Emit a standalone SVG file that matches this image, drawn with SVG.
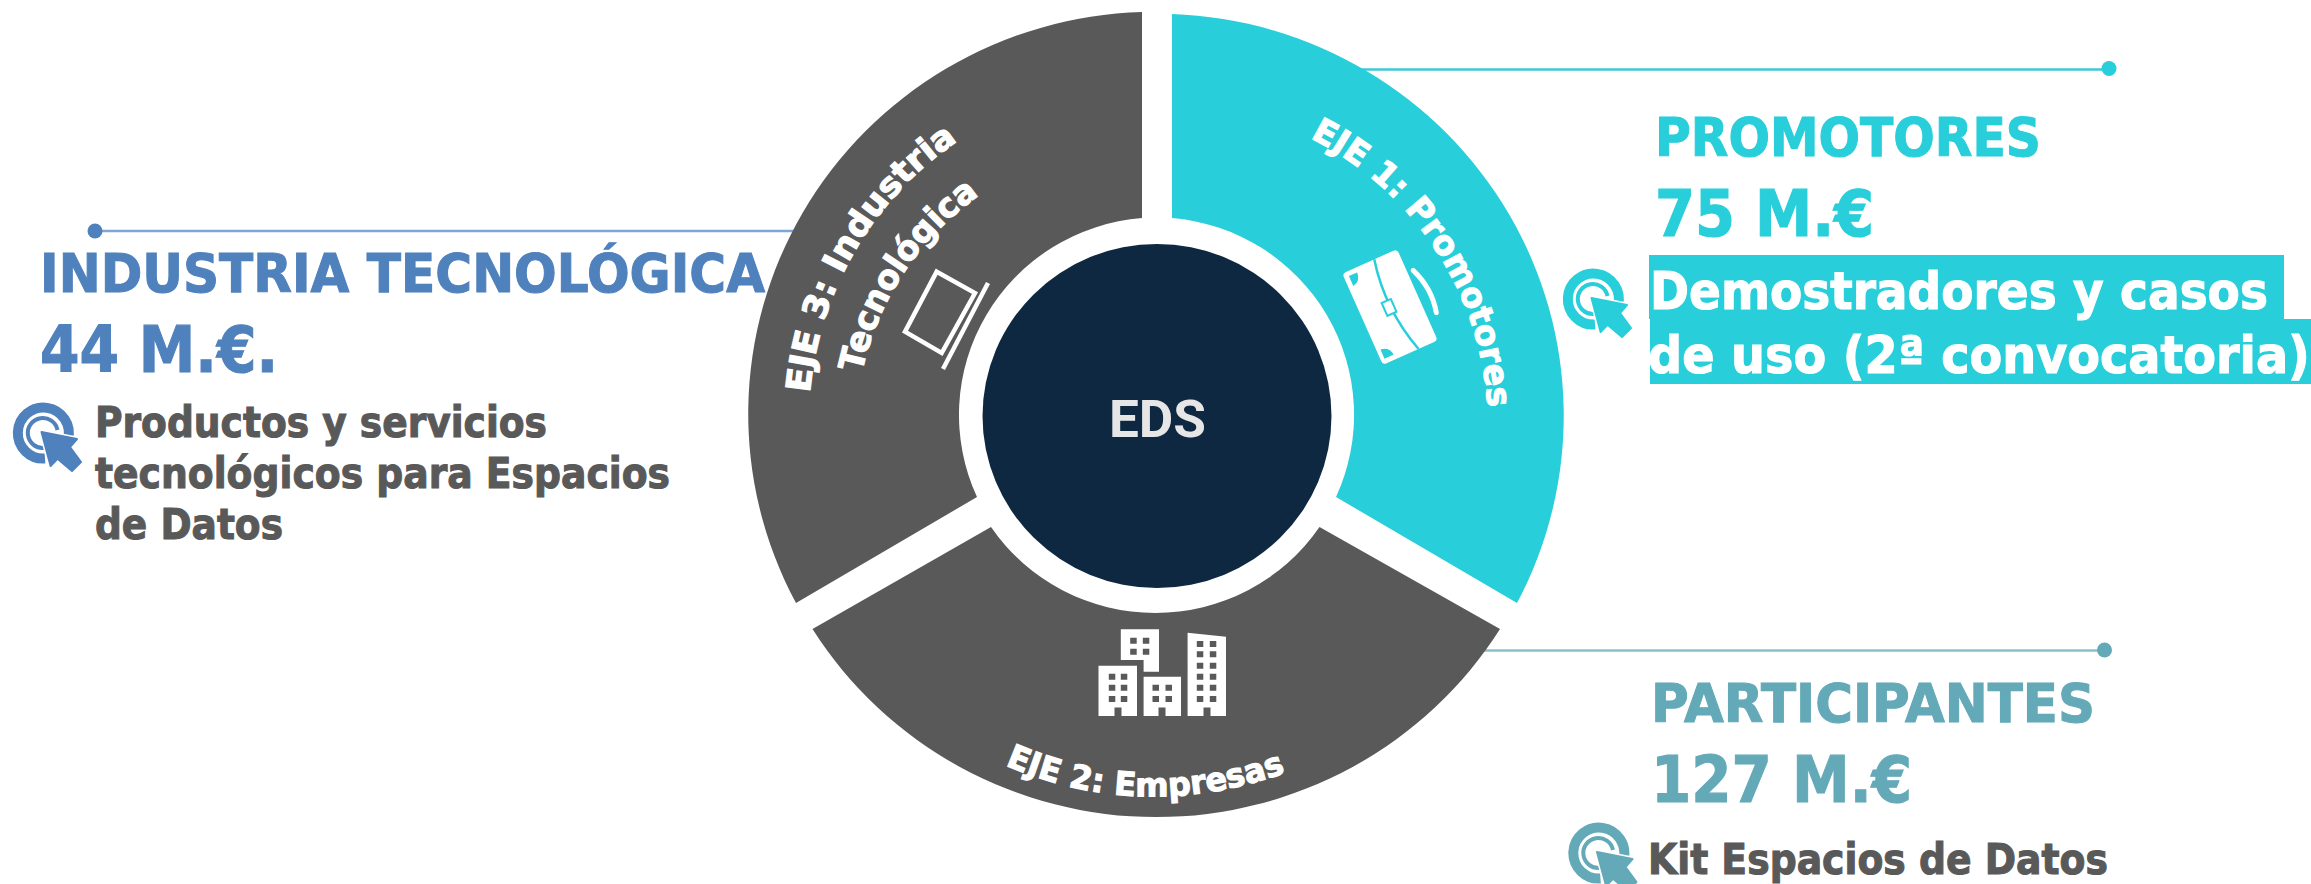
<svg xmlns="http://www.w3.org/2000/svg" width="2311" height="884" viewBox="0 0 2311 884">
<style>
text{font-family:"DejaVu Sans","Liberation Sans",sans-serif;font-weight:700;stroke-width:1.100px}
.cyan{fill:#28CED9;color:#28CED9}
.blue{fill:#4F81BD;color:#4F81BD}
.sea{fill:#64A9B8;color:#64A9B8}
.dark{fill:#595959}
.white{fill:#fff}
text.cyan{stroke:#28CED9}
text.blue{stroke:#4F81BD}
text.sea{stroke:#64A9B8}
text.dark{stroke:#595959}
text.white,text.ring{stroke:#fff}
.h1{font-size:54px}
.h2{font-size:64px}
.b{font-size:42px}
.hl{font-size:47.700px}
.ring{font-size:34px;fill:#fff}
.conn{fill:none;stroke-width:2.500}
.rng{fill:#595959}
</style>
<defs>
<g id="click">
<path d="M25 6.500A25.500 25.500 0 1 0 2 25.500" fill="none" stroke="currentColor" stroke-width="10"/>
<path d="M14.500 -3A15 15 0 1 0 1 15" fill="none" stroke="currentColor" stroke-width="4"/>
<path d="M-1.500 -1L34 6 27 14 38 29 29 38 14.500 25.700 7.600 33Z" fill="#fff" stroke="#fff" stroke-width="5" stroke-linejoin="round"/>
<path d="M-1.500 -1L34 6 27 14 38 29 29 38 14.500 25.700 7.600 33Z" fill="currentColor" stroke="currentColor" stroke-width="2" stroke-linejoin="round"/>
</g>
<path id="p1" d="M1310 138A322 322 0 0 1 1488 424"/>
<path id="p3a" d="M810 393A340 340 0 0 1 975 130"/>
<path id="p3b" d="M862 373A290 290 0 0 1 995 185"/>
<path id="p2" d="M1005 765Q1143 825 1290 771"/>
</defs>

<g id="connectors">
<path class="conn" stroke="#3CC9D4" d="M1350 69.500H2109"/>
<path class="conn" stroke="#7FA6D6" d="M95 231H810"/>
<path class="conn" stroke="#8ABFCA" d="M1475 650.500H2104"/>
<circle class="cyan" cx="2109" cy="68.500" r="7.500"/>
<circle class="blue" cx="95" cy="231" r="7.500"/>
<circle class="sea" cx="2104.500" cy="650" r="7.500"/>
</g>

<g id="eje1">
<path class="cyan" d="M1172 14A406 402 0 0 1 1517 603L1336 497A199 197.500 0 0 0 1172 218Z"/>
<text class="ring"><textPath href="#p1" textLength="338" lengthAdjust="spacingAndGlyphs">EJE 1: Promotores</textPath></text>
<g transform="translate(1390 307) rotate(-24)">
<rect class="white" x="-30" y="-50" width="60" height="100" rx="4"/>
<path d="M5 -50Q-6 0 9 50" fill="none" stroke="#28CED9" stroke-width="2.500"/>
<rect x="-6" y="-7" width="10" height="14" fill="#fff" stroke="#28CED9" stroke-width="2"/>
<path class="cyan" d="M-25 -45H-16Q-16 -36 -25 -34Z"/>
<path class="cyan" d="M-26 45V35Q-17 36 -16 45Z"/>
<path d="M36 -24Q46 0 40 24" fill="none" stroke="#fff" stroke-width="5" stroke-linecap="round"/>
</g>
</g>

<g id="eje3">
<path class="rng" d="M1142 12A406 402 0 0 0 796 603L977 497A199 197.500 0 0 1 1142 218Z"/>
<text class="ring"><textPath href="#p3a" textLength="302" lengthAdjust="spacingAndGlyphs">EJE 3: Industria</textPath></text>
<text class="ring"><textPath href="#p3b" textLength="218" lengthAdjust="spacingAndGlyphs">Tecnológica</textPath></text>
<path d="M936.700 271.700L975 293 941.700 353 905 331.700Z" fill="none" stroke="#fff" stroke-width="4.500"/>
<path d="M988 283L943 369" fill="none" stroke="#fff" stroke-width="4.500"/>
</g>

<g id="eje2">
<path class="rng" d="M812.500 629A406 402 0 0 0 1500 629L1319.500 527A199 197.500 0 0 1 991 527Z"/>
<text class="ring" style="font-size:33px"><textPath href="#p2" textLength="288" lengthAdjust="spacingAndGlyphs">EJE 2: Empresas</textPath></text>
<path class="white" d="M1120.800 629.300H1159V671.700H1143.600V660H1120.800ZM1098.500 665.700H1137V716H1098.500ZM1143.600 676.700H1181V716H1143.600ZM1187.600 632.700L1226 636.700V716H1187.600Z"/>
<path class="dark" d="M1130.200 637.700h6.500v6h-6.500zM1142.800 637.700h6.500v6h-6.500zM1130.200 648.700h6.500v6h-6.500zM1142.800 648.700h6.500v6h-6.500zM1108.800 673.700h6.500v6h-6.500zM1120.800 673.700h6.500v6h-6.500zM1108.800 684.700h6.500v6h-6.500zM1120.800 684.700h6.500v6h-6.500zM1108.800 696h6.500v6h-6.500zM1120.800 696h6.500v6h-6.500zM1152.500 684.700h6.500v6h-6.500zM1165.500 684.700h6.500v6h-6.500zM1152.500 696h6.500v6h-6.500zM1165.500 696h6.500v6h-6.500zM1196.800 641h6.500v6h-6.500zM1209.800 641h6.500v6h-6.500zM1196.800 651.300h6.500v6h-6.500zM1209.800 651.300h6.500v6h-6.500zM1196.800 662.700h6.500v6h-6.500zM1209.800 662.700h6.500v6h-6.500zM1196.800 673.700h6.500v6h-6.500zM1209.800 673.700h6.500v6h-6.500zM1196.800 684.700h6.500v6h-6.500zM1209.800 684.700h6.500v6h-6.500zM1196.800 696h6.500v6h-6.500zM1209.800 696h6.500v6h-6.500zM1114.500 707.500h7V716h-7zM1158.500 707.500h7V716h-7zM1203.500 707.500h7V716h-7z"/>
</g>

<g id="eds">
<ellipse cx="1157" cy="416" rx="174.500" ry="172" fill="#0F2841"/>
<text x="1109" y="437" textLength="97" lengthAdjust="spacingAndGlyphs" style="font-family:Roboto,'Liberation Sans',sans-serif;font-weight:700;font-size:52px;fill:#E6E6E6;stroke:none">EDS</text>
</g>

<g id="promotores">
<text class="cyan h1" x="1655" y="156" textLength="386" lengthAdjust="spacingAndGlyphs">PROMOTORES</text>
<text class="cyan h2" x="1655" y="236" textLength="219" lengthAdjust="spacingAndGlyphs">75 M.€</text>
<use href="#click" class="cyan" transform="translate(1593 299)"/>
<path class="cyan" d="M1649 255H2284V319H2311V384H1650V319H1649Z"/>
<text class="white hl" transform="translate(1650 309) scale(0.986 1.090)">Demostradores y casos</text>
<text class="white hl" transform="translate(1648 373) scale(1 1.090)">de uso (2ª convocatoria)</text>
</g>

<g id="industria">
<text class="blue h1" x="40" y="292" textLength="725" lengthAdjust="spacingAndGlyphs">INDUSTRIA TECNOLÓGICA</text>
<text class="blue h2" x="40" y="372" textLength="238" lengthAdjust="spacingAndGlyphs">44 M.€.</text>
<use href="#click" class="blue" transform="translate(43 433)"/>
<text class="dark b" x="95" y="437" textLength="452" lengthAdjust="spacingAndGlyphs">Productos y servicios</text>
<text class="dark b" x="95" y="488" textLength="575" lengthAdjust="spacingAndGlyphs">tecnológicos para Espacios</text>
<text class="dark b" x="95" y="539" textLength="188" lengthAdjust="spacingAndGlyphs">de Datos</text>
</g>

<g id="participantes">
<text class="sea h1" x="1651" y="722" textLength="444" lengthAdjust="spacingAndGlyphs">PARTICIPANTES</text>
<text class="sea h2" x="1651" y="802" textLength="261" lengthAdjust="spacingAndGlyphs">127 M.€</text>
<use href="#click" class="sea" transform="translate(1598.500 853)"/>
<text class="dark b" x="1648" y="874" textLength="460" lengthAdjust="spacingAndGlyphs">Kit Espacios de Datos</text>
</g>
</svg>
